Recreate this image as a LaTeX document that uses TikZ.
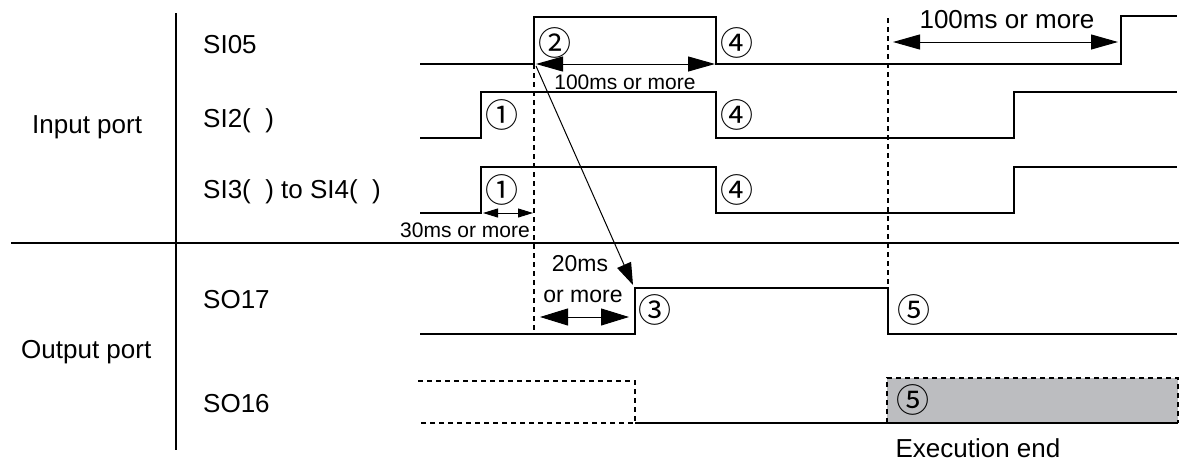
\documentclass[tikz,border=0pt]{standalone}
\usepackage{fontspec}
\setmainfont{Liberation Sans}
\newfontfamily\circfont{Noto Sans CJK JP}
\usetikzlibrary{arrows.meta}
\definecolor{boxgray}{RGB}{188,189,192}
\begin{document}
\begin{tikzpicture}[x=1pt,y=-1pt,
  sig/.style={line width=2.6pt, line join=miter},
  axisline/.style={line width=2.2pt},
  guide/.style={line width=1.1pt, dash pattern=on 5pt off 4pt},
  bigdim/.style={line width=1pt, {Triangle[length=27pt,width=15pt]}-{Triangle[length=27pt,width=15pt]}},
  smalldim/.style={line width=1pt, {Triangle[length=15pt,width=9pt]}-{Triangle[length=15pt,width=9pt]}},
  lab/.style={font=\fontsize{26}{30}\selectfont, inner sep=0pt, anchor=base west},
  ann/.style={inner sep=0pt, anchor=base},
  num/.style={font=\circfont\fontsize{33}{36}\selectfont, inner sep=0pt}
]
\useasboundingbox (0,0) rectangle (1179,461);

% gray box
\fill[boxgray] (887,378) rectangle (1178,423);
\draw[guide] (887,423) -- (887,378) -- (1178,378) -- (1178,423);

% axes
\draw[axisline] (176,13) -- (176,450);
\draw[axisline] (11,243) -- (1179,243);

% labels
\node[lab] (inp) at (32,133) {Input port};
\node[lab] (outp) at (21,358) {Output port};
\node[lab] (l1) at (203,53) {SI05};
\node[lab] (l2) at (203,127) {SI2(\ \ )};
\node[lab] (l3) at (203,198) {SI3(\ \ ) to SI4(\ \ )};
\node[lab] (l4) at (203,308) {SO17};
\node[lab] (l5) at (203,412) {SO16};

% guides
\coordinate (g1t) at (534,64);
\coordinate (g1b) at (534,334);
\coordinate (g2t) at (888,18);
\coordinate (g2b) at (888,288);
\draw[guide] (g1t) -- (g1b);
\draw[guide] (g2t) -- (g2b);

% waveforms
\draw[sig] (420,64) -- (534,64) -- (534,17) -- (716,17) -- (716,64) -- (1121,64) -- (1121,16) -- (1177,16);
\draw[sig] (420,138) -- (481,138) -- (481,92) -- (716,92) -- (716,138) -- (1014,138) -- (1014,92) -- (1177,92);
\draw[sig] (420,213) -- (481,213) -- (481,167) -- (716,167) -- (716,213) -- (1014,213) -- (1014,167) -- (1177,167);
\draw[sig] (420,334) -- (635,334) -- (635,288) -- (888,288) -- (888,334) -- (1177,334);
\draw[guide] (418,381) -- (635,381) -- (635,423) -- (418,423);
\draw[sig] (635,423) -- (1117,423);
\draw[line width=1.4pt] (1117,423) -- (1178,423);

% dimension arrows
\coordinate (a1l) at (536,64);
\coordinate (a1r) at (715,64);
\draw[bigdim] (a1l) -- (a1r);
\node[ann, font=\fontsize{21}{24}\selectfont] (t1) at (625,89) {100ms or more};

\coordinate (a2l) at (893,42);
\coordinate (a2r) at (1118,42);
\draw[bigdim] (a2l) -- (a2r);
\node[ann, font=\fontsize{26}{30}\selectfont] (t2) at (1007,28) {100ms or more};

\coordinate (a3l) at (483,213);
\coordinate (a3r) at (533,213);
\draw[smalldim] (a3l) -- (a3r);
\node[ann, font=\fontsize{21}{24}\selectfont] (t3) at (465,237) {30ms or more};

\coordinate (a4l) at (540,317);
\coordinate (a4r) at (629,317);
\draw[line width=1pt, {Triangle[length=28pt,width=17pt]}-{Triangle[length=28pt,width=17pt]}] (a4l) -- (a4r);
\node[ann, font=\fontsize{23}{26}\selectfont] (t4) at (580,271) {20ms};
\node[ann, font=\fontsize{23}{26}\selectfont] (t5) at (583,302) {or more};

\coordinate (d1) at (536,66);
\coordinate (d2) at (633,285);
\draw[line width=1pt, -{Triangle[length=22pt,width=15pt]}] (d1) -- (d2);

% circled numbers
\node[num] (n2) at (555,43) {②};
\node[num] (n4a) at (737,43) {④};
\node[num] (n1a) at (502,115) {①};
\node[num] (n4b) at (737,115) {④};
\node[num] (n1b) at (502,190) {①};
\node[num] (n4c) at (737,190) {④};
\node[num] (n3) at (655,310) {③};
\node[num] (n5a) at (914,310) {⑤};
\node[num] (n5b) at (913,400) {⑤};

\node[ann, font=\fontsize{26}{30}\selectfont] (ex) at (978,457) {Execution end};
\end{tikzpicture}
\end{document}
